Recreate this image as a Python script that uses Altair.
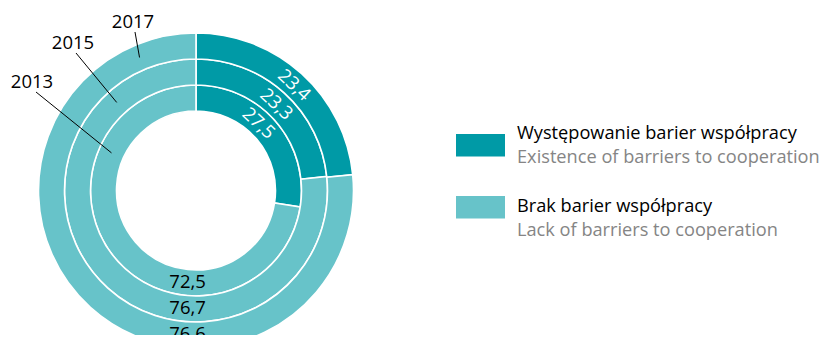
import math
import altair as alt
import pandas as pd

# ---- data ----
years = [2013, 2015, 2017]
existence = [27.5, 23.3, 23.4]
lack = [72.5, 76.7, 76.6]
cat_pl = ["Występowanie barier współpracy", "Brak barier współpracy"]
cat_en = ["Existence of barriers to cooperation", "Lack of barriers to cooperation"]

# ---- style ----
DARK = "#009aa6"
LIGHT = "#67c3c9"
GRAY = "#858585"
FONT = "Open Sans"
W, H = 817, 327
CX, CY = 188, 182.5
R_HOLE = 79.5
RING = 26

rows = []
for i, y in enumerate(years):
    rows.append({"year": y, "category": cat_pl[0], "value": existence[i], "order": 0,
                 "label": f"{existence[i]:.1f}".replace(".", ",")})
    rows.append({"year": y, "category": cat_pl[1], "value": lack[i], "order": 1,
                 "label": f"{lack[i]:.1f}".replace(".", ",")})
df = pd.DataFrame(rows)

color = alt.Color("category:N", scale=alt.Scale(domain=cat_pl, range=[DARK, LIGHT]), legend=None)

layers = []
for i, y in enumerate(years):
    r0 = R_HOLE + RING * i
    r1 = r0 + RING
    rmid = (r0 + r1) / 2
    base = alt.Chart(df).transform_filter(alt.datum.year == y)
    layers.append(
        base.mark_arc(radius=r1, radius2=r0, stroke="white", strokeWidth=1.6).encode(
            theta=alt.Theta("value:Q", stack=True, scale=alt.Scale(domain=[0, 100])),
            order=alt.Order("order:Q"),
            color=color,
            x=alt.value(CX), y=alt.value(CY),
        )
    )
    dark_angle = 43
    layers.append(
        base.transform_filter(alt.datum.order == 0).mark_text(
            theta=math.radians(dark_angle), radius=rmid - 0.5, angle=dark_angle,
            color="white", font=FONT, fontSize=18.5, align="center", baseline="middle",
        ).encode(text="label:N", x=alt.value(CX), y=alt.value(CY))
    )
    light_angle = 180 + math.degrees(math.asin(8.5 / rmid))
    layers.append(
        base.transform_filter(alt.datum.order == 1).mark_text(
            theta=math.radians(light_angle), radius=rmid - 1,
            color="black", font=FONT, fontSize=18.5, align="center", baseline="middle",
        ).encode(text="label:N", x=alt.value(CX), y=alt.value(CY))
    )

# year labels with leader lines
year_df = pd.DataFrame({"year": [str(y) for y in years]})
year_text_pos = {"2017": (125, 14), "2015": (65, 35), "2013": (24, 74)}
year_line_start = {"2017": (127, 24), "2015": (68, 45), "2013": (28, 84)}
year_line_angle = {"2017": 337, "2015": 318, "2013": 294}
for i, y in enumerate(years):
    ys = str(y)
    rmid = R_HOLE + RING * i + RING / 2
    a = math.radians(year_line_angle[ys])
    ex, ey = CX + rmid * math.sin(a), CY - rmid * math.cos(a)
    sx, sy = year_line_start[ys]
    tx, ty = year_text_pos[ys]
    b = alt.Chart(year_df).transform_filter(alt.datum.year == ys)
    layers.append(b.mark_rule(color="black", strokeWidth=1).encode(
        x=alt.value(sx), y=alt.value(sy), x2=alt.value(ex), y2=alt.value(ey)))
    layers.append(b.mark_text(font=FONT, fontSize=18.5, color="black", align="center",
                              baseline="middle").encode(text="year:N", x=alt.value(tx), y=alt.value(ty)))

# custom legend
leg_df = pd.DataFrame({"pl": cat_pl, "en": cat_en, "idx": [0, 1]})
SW_X0, SW_X1 = 448, 497
TX = 509
for k in range(2):
    sy0 = 126 + 62 * k
    b = alt.Chart(leg_df).transform_filter(alt.datum.idx == k)
    layers.append(b.mark_rect(color=[DARK, LIGHT][k]).encode(
        x=alt.value(SW_X0), x2=alt.value(SW_X1), y=alt.value(sy0), y2=alt.value(sy0 + 22.5)))
    bl = 131 + 73 * k
    layers.append(b.mark_text(font=FONT, fontSize=18.2, color="black", align="left",
                              baseline="alphabetic").encode(text="pl:N", x=alt.value(TX), y=alt.value(bl)))
    layers.append(b.mark_text(font=FONT, fontSize=18.2, color=GRAY, align="left",
                              baseline="alphabetic").encode(text="en:N", x=alt.value(TX), y=alt.value(bl + 24)))

chart = alt.layer(*layers).properties(
    width=W, height=H, padding=0, autosize=alt.AutoSizeParams(type="none")
).configure_view(stroke=None)

chart.save("out.html", embed_options={"renderer": "svg", "actions": False})
